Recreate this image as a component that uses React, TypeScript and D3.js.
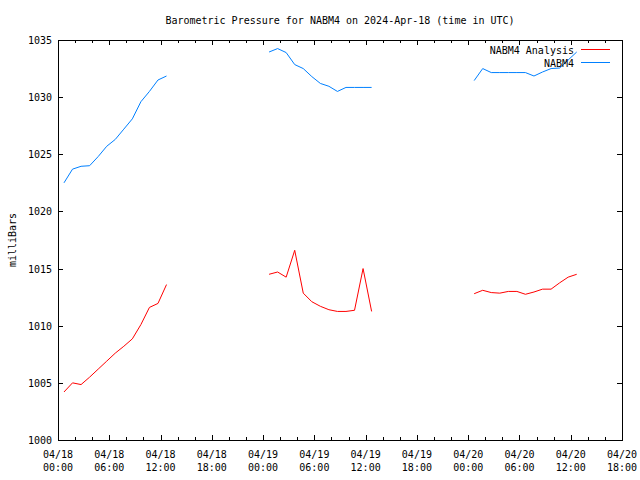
import React from "react";
import * as d3 from "d3";

// Hours after 2024-04-18 00:00 UTC
const hours: number[] = [
  0.7, 1.7, 2.7, 3.7, 4.7, 5.7, 6.7, 7.7, 8.7, 9.7, 10.7, 11.7, 12.7,
  18.7,
  24.7, 25.7, 26.7, 27.7, 28.7, 29.7, 30.7, 31.7, 32.7, 33.7, 34.7, 35.7, 36.7,
  42.7,
  48.7, 49.7, 50.7, 51.7, 52.7, 53.7, 54.7, 55.7, 56.7, 57.7, 58.7, 59.7, 60.7,
];

const analysis: (number | null)[] = [
  1004.2, 1005.0, 1004.85, 1005.5, 1006.2, 1006.9, 1007.6, 1008.2, 1008.85, 1010.1, 1011.6, 1011.95, 1013.6,
  null,
  1014.5, 1014.7, 1014.25, 1016.6, 1012.85, 1012.1, 1011.7, 1011.4, 1011.25, 1011.25, 1011.35, 1015.0, 1011.25,
  null,
  1012.8, 1013.1, 1012.9, 1012.85, 1013.0, 1013.0, 1012.75, 1012.95, 1013.2, 1013.2, 1013.75, 1014.25, 1014.5,
];

const observed: (number | null)[] = [
  1022.5, 1023.7, 1023.95, 1024.0, 1024.8, 1025.7, 1026.3, 1027.2, 1028.1, 1029.6, 1030.5, 1031.5, 1031.85,
  null,
  1033.95, 1034.25, 1033.9, 1032.85, 1032.5, 1031.8, 1031.2, 1030.95, 1030.5, 1030.85, 1030.85, 1030.85, 1030.85,
  null,
  1031.45, 1032.5, 1032.15, 1032.15, 1032.15, 1032.15, 1032.15, 1031.85, 1032.2, 1032.5, 1032.55, 1033.25, 1033.95,
];

const xMajorTicks: number[] = [0, 6, 12, 18, 24, 30, 36, 42, 48, 54, 60, 66];
const xTickDates: string[] = ["04/18", "04/18", "04/18", "04/18", "04/19", "04/19", "04/19", "04/19", "04/20", "04/20", "04/20", "04/20"];
const xTickTimes: string[] = ["00:00", "06:00", "12:00", "18:00", "00:00", "06:00", "12:00", "18:00", "00:00", "06:00", "12:00", "18:00"];
const yTicks: number[] = [1000, 1005, 1010, 1015, 1020, 1025, 1030, 1035];

const seriesNames: string[] = ["NABM4 Analysis", "NABM4"];
const seriesColors: string[] = ["#ff0000", "#0080ff"];

const W = 640;
const H = 480;
const L = 58, R = 622, T = 40, B = 440;
const FONT = "'DejaVu Sans Mono', monospace";

export default function App() {
  const x = d3.scaleLinear().domain([0, 66]).range([L, R]);
  const y = d3.scaleLinear().domain([1000, 1035]).range([B, T]);
  const minorTicks = d3.range(0, 67, 2).filter((h) => h % 6 !== 0);

  const mkLine = (vals: (number | null)[]) =>
    d3
      .line<number>()
      .defined((i) => vals[i] !== null)
      .x((i) => x(hours[i]))
      .y((i) => y(vals[i] as number))(hours.map((_, i) => i)) || "";

  const seriesVals = [analysis, observed];

  return (
    <svg width={W} height={H} style={{ position: "absolute", left: 0, top: 0, background: "#fff" }}>
      <rect x={0} y={0} width={W} height={H} fill="#fff" />
      <text x={(L + R) / 2} y={24} textAnchor="middle" fontFamily={FONT} fontSize={10} fill="#000">
        Barometric Pressure for NABM4 on 2024-Apr-18 (time in UTC)
      </text>
      <text
        transform={`translate(15.5,${(T + B) / 2}) rotate(-90)`}
        textAnchor="middle"
        fontFamily={FONT}
        fontSize={10}
        fill="#000"
      >
        milliBars
      </text>
      <g shapeRendering="crispEdges" stroke="#000" strokeWidth={1}>
        {yTicks.map((v) => (
          <g key={"y" + v}>
            <line x1={L} x2={L + 5} y1={Math.round(y(v)) + 0.5} y2={Math.round(y(v)) + 0.5} />
            <line x1={R - 5} x2={R} y1={Math.round(y(v)) + 0.5} y2={Math.round(y(v)) + 0.5} />
          </g>
        ))}
        {xMajorTicks.map((h) => (
          <g key={"x" + h}>
            <line x1={Math.round(x(h)) + 0.5} x2={Math.round(x(h)) + 0.5} y1={B} y2={B - 5} />
            <line x1={Math.round(x(h)) + 0.5} x2={Math.round(x(h)) + 0.5} y1={T} y2={T + 5} />
          </g>
        ))}
        {minorTicks.map((h) => (
          <g key={"m" + h}>
            <line x1={Math.round(x(h)) + 0.5} x2={Math.round(x(h)) + 0.5} y1={B} y2={B - 3} />
            <line x1={Math.round(x(h)) + 0.5} x2={Math.round(x(h)) + 0.5} y1={T} y2={T + 3} />
          </g>
        ))}
        <rect x={L + 0.5} y={T + 0.5} width={R - L} height={B - T} fill="none" />
      </g>
      {yTicks.map((v) => (
        <text key={"yl" + v} x={L - 6} y={y(v) + 4} textAnchor="end" fontFamily={FONT} fontSize={10} fill="#000">
          {v}
        </text>
      ))}
      {xMajorTicks.map((h, i) => (
        <g key={"xl" + h}>
          <text x={x(h)} y={458} textAnchor="middle" fontFamily={FONT} fontSize={10} fill="#000">
            {xTickDates[i]}
          </text>
          <text x={x(h)} y={471} textAnchor="middle" fontFamily={FONT} fontSize={10} fill="#000">
            {xTickTimes[i]}
          </text>
        </g>
      ))}
      {seriesVals.map((vals, k) => (
        <path key={"s" + k} d={mkLine(vals)} fill="none" stroke={seriesColors[k]} strokeWidth={1} />
      ))}
      {seriesNames.map((n, k) => (
        <g key={"lg" + k}>
          <text x={574} y={53.5 + k * 13.3} textAnchor="end" fontFamily={FONT} fontSize={10} fill="#000">
            {n}
          </text>
          <line x1={581} x2={610} y1={49.5 + k * 13} y2={49.5 + k * 13} stroke={seriesColors[k]} strokeWidth={1} shapeRendering="crispEdges" />
        </g>
      ))}
    </svg>
  );
}
